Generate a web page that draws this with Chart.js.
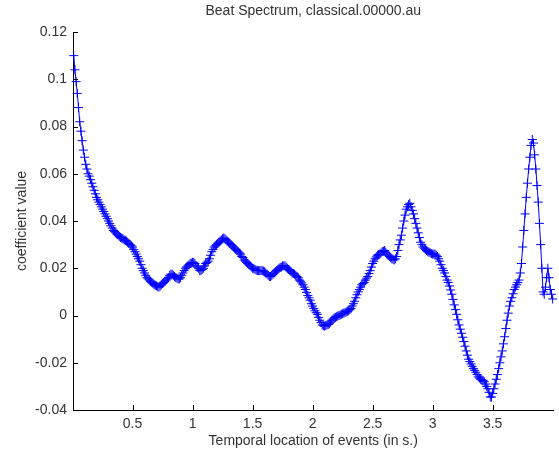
<!DOCTYPE html>
<html>
<head>
<meta charset="utf-8">
<script src="https://cdn.jsdelivr.net/npm/chart.js@4/dist/chart.umd.min.js"></script>
<style>
  html, body { margin: 0; padding: 0; background: #fff; }
  canvas { display: block; }
</style>
</head>
<body>
<canvas id="beatChart" width="559" height="454"></canvas>
<script>
// beat spectrum values, one every 0.01 s starting at 0.01 s
const hop = 0.01;
const coeffs = [
  0.110, 0.104, 0.099, 0.094, 0.088, 0.082, 0.078, 0.074, 0.070, 0.067,                 // 0.01 - 0.10
  0.064, 0.062, 0.060, 0.059, 0.0575, 0.056, 0.0545, 0.053, 0.0515, 0.050,              // 0.11 - 0.20
  0.049, 0.048, 0.047, 0.046, 0.045, 0.044, 0.043, 0.042, 0.041, 0.040,                 // 0.21 - 0.30
  0.039, 0.038, 0.037, 0.036, 0.0355, 0.035, 0.0345, 0.034, 0.0335, 0.033,              // 0.31 - 0.40
  0.0327, 0.0325, 0.032, 0.0318, 0.0315, 0.031, 0.0305, 0.030, 0.0295, 0.029,           // 0.41 - 0.50
  0.028, 0.027, 0.026, 0.025, 0.024, 0.023, 0.0215, 0.020, 0.019, 0.018,                // 0.51 - 0.60
  0.017, 0.016, 0.0155, 0.015, 0.0145, 0.014, 0.0135, 0.013, 0.0128, 0.0125,            // 0.61 - 0.70
  0.0122, 0.012, 0.0125, 0.013, 0.0135, 0.014, 0.0145, 0.015, 0.0155, 0.016,            // 0.71 - 0.80
  0.017, 0.0175, 0.0175, 0.017, 0.0165, 0.016, 0.0158, 0.0155, 0.0155, 0.016,           // 0.81 - 0.90
  0.017, 0.018, 0.019, 0.020, 0.0205, 0.021, 0.0215, 0.022, 0.0222, 0.0225,             // 0.91 - 1.00
  0.0225, 0.022, 0.021, 0.0205, 0.020, 0.019, 0.019, 0.0195, 0.020, 0.021,              // 1.01 - 1.10
  0.022, 0.0225, 0.023, 0.024, 0.0255, 0.027, 0.028, 0.029, 0.0295, 0.030,              // 1.11 - 1.20
  0.0305, 0.031, 0.0315, 0.032, 0.0325, 0.0328, 0.0325, 0.032, 0.0315, 0.031,           // 1.21 - 1.30
  0.0305, 0.030, 0.0295, 0.029, 0.0285, 0.028, 0.0275, 0.027, 0.0265, 0.026,            // 1.31 - 1.40
  0.025, 0.0245, 0.0235, 0.023, 0.0225, 0.022, 0.0215, 0.021, 0.0205, 0.020,            // 1.41 - 1.50
  0.0198, 0.0195, 0.0192, 0.019, 0.019, 0.019, 0.019, 0.019, 0.0188, 0.0185,           // 1.51 - 1.60
  0.018, 0.0175, 0.017, 0.0165, 0.0165, 0.017, 0.0175, 0.018, 0.0185, 0.019,            // 1.61 - 1.70
  0.0195, 0.020, 0.0203, 0.0205, 0.021, 0.021, 0.021, 0.0205, 0.020, 0.0195,            // 1.71 - 1.80
  0.019, 0.0185, 0.018, 0.0178, 0.0175, 0.017, 0.0165, 0.016, 0.015, 0.0145,            // 1.81 - 1.90
  0.0138, 0.013, 0.012, 0.011, 0.0098, 0.0085, 0.0075, 0.0065, 0.005, 0.004,            // 1.91 - 2.00
  0.003, 0.002, 0.0012, 0.0005, -0.0008, -0.002, -0.003, -0.004, -0.0043, -0.0045,      // 2.01 - 2.10
  -0.0042, -0.004, -0.0038, -0.0035, -0.0028, -0.002, -0.0015, -0.001, -0.0008, -0.0005, // 2.11 - 2.20
  -0.0002, 0.0, 0.0002, 0.0005, 0.0008, 0.001, 0.0012, 0.0015, 0.0018, 0.002,           // 2.21 - 2.30
  0.0025, 0.003, 0.004, 0.005, 0.006, 0.0075, 0.0088, 0.010, 0.011, 0.012,              // 2.31 - 2.40
  0.013, 0.0135, 0.014, 0.015, 0.0158, 0.0165, 0.0178, 0.019, 0.0205, 0.022,            // 2.41 - 2.50
  0.023, 0.024, 0.0248, 0.0255, 0.0258, 0.026, 0.0265, 0.027, 0.0272, 0.0275,           // 2.51 - 2.60
  0.0268, 0.026, 0.0255, 0.025, 0.0245, 0.024, 0.0238, 0.0235, 0.024, 0.025,            // 2.61 - 2.70
  0.0275, 0.030, 0.032, 0.034, 0.037, 0.040, 0.0425, 0.045, 0.046, 0.047,               // 2.71 - 2.80
  0.0475, 0.046, 0.0445, 0.043, 0.041, 0.039, 0.037, 0.035, 0.033, 0.031,               // 2.81 - 2.90
  0.030, 0.029, 0.0285, 0.028, 0.0275, 0.027, 0.0268, 0.0265, 0.0262, 0.026,           // 2.91 - 3.00
  0.026, 0.026, 0.0255, 0.025, 0.024, 0.023, 0.0215, 0.020, 0.019, 0.018,               // 3.01 - 3.10
  0.0165, 0.015, 0.014, 0.0125, 0.0108, 0.009, 0.0068, 0.0045, 0.0025, 0.0005,          // 3.11 - 3.20
  -0.0018, -0.004, -0.0058, -0.0075, -0.0092, -0.011, -0.013, -0.015, -0.0168, -0.0185, // 3.21 - 3.30
  -0.0195, -0.0205, -0.0215, -0.0225, -0.0232, -0.024, -0.025, -0.026, -0.0265, -0.027, // 3.31 - 3.40
  -0.0272, -0.0275, -0.028, -0.029, -0.030, -0.031, -0.0325, -0.0345, -0.0345, -0.033,  // 3.41 - 3.50
  -0.031, -0.029, -0.027, -0.025, -0.0225, -0.020, -0.0175, -0.015, -0.012, -0.009,     // 3.51 - 3.60
  -0.0055, -0.002, 0.001, 0.004, 0.006, 0.0075, 0.0092, 0.011, 0.012, 0.013,            // 3.61 - 3.70
  0.014, 0.015, 0.018, 0.022, 0.029, 0.036, 0.043, 0.050, 0.056, 0.062,                 // 3.71 - 3.80
  0.067, 0.072, 0.0745, 0.073, 0.068, 0.062, 0.055, 0.048, 0.039, 0.030,                // 3.81 - 3.90
  0.020, 0.010, 0.009, 0.012, 0.016, 0.020, 0.016, 0.011, 0.009, 0.007                  // 3.91 - 4.00
];
const times = coeffs.map((_, i) => +(hop + i * hop).toFixed(2));

const xTicks = [0.5, 1, 1.5, 2, 2.5, 3, 3.5];
const yTicks = [-0.04, -0.02, 0, 0.02, 0.04, 0.06, 0.08, 0.1, 0.12];

const chartTitle = 'Beat Spectrum, classical.00000.au';
const xTitle = 'Temporal location of events (in s.)';
const yTitle = 'coefficient value';

const txtColor = '#333';
const font = { family: '"Liberation Sans", Arial, sans-serif', size: 14 };

// matlab style ticks, pointing into the axes
const inwardTicks = {
  id: 'inwardTicks',
  afterDraw(chart) {
    const { ctx, chartArea, scales } = chart;
    ctx.save();
    ctx.strokeStyle = '#000';
    ctx.lineWidth = 1;
    ctx.beginPath();
    xTicks.forEach(v => {
      const px = Math.round(scales.x.getPixelForValue(v)) + 0.5;
      ctx.moveTo(px, chartArea.bottom);
      ctx.lineTo(px, chartArea.bottom - 5);
    });
    yTicks.forEach(v => {
      const py = Math.round(scales.y.getPixelForValue(v)) + 0.5;
      ctx.moveTo(chartArea.left, py);
      ctx.lineTo(chartArea.left + 5, py);
    });
    ctx.stroke();
    ctx.restore();
  }
};

const ctx = document.getElementById('beatChart').getContext('2d');
new Chart(ctx, {
  type: 'line',
  data: {
    datasets: [{
      data: times.map((t, i) => ({ x: t, y: coeffs[i] })),
      borderColor: '#0000ff',
      borderWidth: 1,
      pointStyle: 'cross',
      pointRadius: 4.5,
      pointBorderWidth: 1,
      pointBorderColor: '#0000ff',
      tension: 0,
      clip: false
    }]
  },
  options: {
    responsive: false,
    animation: false,
    devicePixelRatio: 1,
    layout: { padding: { left: 0, right: 4, top: 0, bottom: 0 } },
    plugins: {
      legend: { display: false },
      tooltip: { enabled: false }
    },
    scales: {
      x: {
        type: 'linear',
        min: 0.004,
        max: 4.007,
        grid: { display: false, drawTicks: false },
        border: { display: true, color: '#000', width: 1 },
        afterBuildTicks(s) { s.ticks = xTicks.map(v => ({ value: v })); },
        ticks: { color: txtColor, font, padding: 6, maxRotation: 0, callback: v => String(v) },
        title: { display: true, text: xTitle, color: txtColor, font, padding: { top: 0, bottom: 4 } },
        afterFit(s) { s.height = 44; }
      },
      top: {
        type: 'linear',
        axis: 'x',
        position: 'top',
        grid: { display: false, drawTicks: false },
        border: { display: false },
        ticks: { display: false },
        title: { display: true, text: chartTitle, color: txtColor, font, padding: { top: 3, bottom: 0 } },
        afterFit(s) { s.height = 32; }
      },
      y: {
        type: 'linear',
        min: -0.04,
        max: 0.12,
        grid: { display: false, drawTicks: false },
        border: { display: true, color: '#000', width: 1 },
        afterBuildTicks(s) { s.ticks = yTicks.map(v => ({ value: v })); },
        ticks: { color: txtColor, font, padding: 6, callback: v => String(+v.toFixed(2)) },
        title: { display: true, text: yTitle, color: txtColor, font, padding: { top: 14, bottom: 0 } },
        afterFit(s) { s.width = 73; }
      }
    }
  },
  plugins: [inwardTicks]
});
</script>
</body>
</html>
